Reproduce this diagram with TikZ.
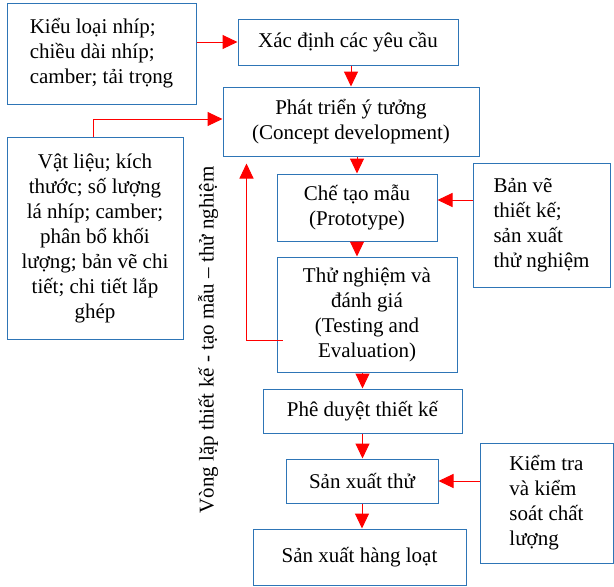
\documentclass[tikz,border=0pt]{standalone}
\usepackage{fontspec}
\setmainfont{Liberation Serif}
\usetikzlibrary{arrows.meta}
\definecolor{boxblue}{RGB}{46,117,182}
\begin{document}
\begin{tikzpicture}[x=1pt, y=-1pt, >={Triangle[length=15pt,width=14pt]},
  box/.style={draw=boxblue, line width=1pt, inner sep=0pt, font=\fontsize{21}{25}\selectfont},
  arr/.style={->, red, line width=1pt}]
\useasboundingbox (0,0) rectangle (614,587);
\node[box, minimum width=189pt, minimum height=101pt, align=left] (kieu) at (101.5,53.5) {Kiểu loại nhíp;\\chiều dài nhíp;\\camber; tải trọng};
\node[box, minimum width=220pt, minimum height=46pt] (xacdinh) at (348,42) {Xác định các yêu cầu};
\node[box, minimum width=256pt, minimum height=69pt, align=center] (phattrien) at (351,121.5) {Phát triển ý tưởng\\(Concept development)};
\node[box, minimum width=176pt, minimum height=202pt, align=center] (vatlieu) at (95,238) {Vật liệu; kích\\thước; số lượng\\lá nhíp; camber;\\phân bổ khối\\lượng; bản vẽ chi\\tiết; chi tiết lắp\\ghép};
\node[box, minimum width=160pt, minimum height=67pt, align=center] (chetao) at (357,207.5) {Chế tạo mẫu\\(Prototype)};
\node[box, minimum width=137pt, minimum height=124pt, align=left] (banve) at (541.5,225) {Bản vẽ\\thiết kế;\\sản xuất\\thử nghiệm};
\node[box, minimum width=180pt, minimum height=115pt, align=center] (thunghiem) at (367,314.5) {Thử nghiệm và\\đánh giá\\(Testing and\\Evaluation)};
\node[box, minimum width=199pt, minimum height=44pt] (pheduyet) at (362.5,411) {Phê duyệt thiết kế};
\node[box, minimum width=152pt, minimum height=44pt] (sxthu) at (362,481) {Sản xuất thử};
\node[box, minimum width=213pt, minimum height=56pt] (hangloat) at (359.5,557) {Sản xuất hàng loạt};
\node[box, minimum width=133pt, minimum height=120pt, align=left] (kiemtra) at (546.5,503) {Kiểm tra\\và kiểm\\soát chất\\lượng};
\node[rotate=90, inner sep=0pt, font=\fontsize{21}{25}\selectfont] (vonglap) at (208,340) {Vòng lặp thiết kế - tạo mẫu – thử nghiệm};
\draw[arr] (kieu.east |- xacdinh.west) -- (xacdinh.west);
\draw[arr] (phattrien.north |- xacdinh.south) -- (phattrien.north);
\draw[arr] ([xshift=-2pt]vatlieu.north) |- ([yshift=2.5pt]phattrien.west);
\draw[arr] (chetao.north |- phattrien.south) -- (chetao.north);
\draw[arr] ([yshift=25pt]banve.west) -- ([yshift=7.5pt]chetao.east);
\draw[arr] (chetao.south) -- (chetao.south |- thunghiem.north);
\draw[arr, shorten >=7pt] ([xshift=6pt,yshift=-25.5pt]thunghiem.west) -| ([xshift=24pt]phattrien.south west);
\draw[arr] (pheduyet.north |- thunghiem.south) -- (pheduyet.north);
\draw[arr] (pheduyet.south) -- (pheduyet.south |- sxthu.north);
\draw[arr] (kiemtra.west |- sxthu.east) -- (sxthu.east);
\draw[arr] (sxthu.south) -- (sxthu.south |- hangloat.north);
\end{tikzpicture}
\end{document}
